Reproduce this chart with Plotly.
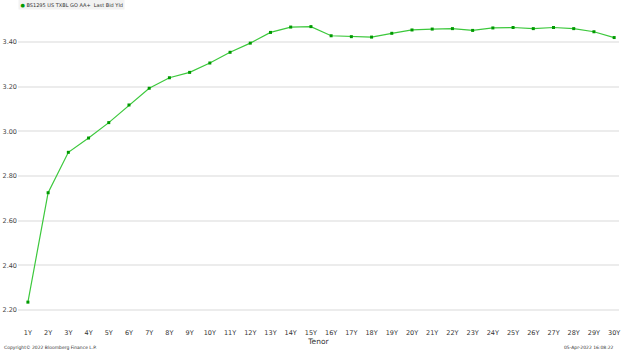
import plotly.graph_objects as go

tenors = [f"{i}Y" for i in range(1, 31)]
yields = [2.235, 2.725, 2.906, 2.970, 3.039, 3.118, 3.193, 3.240, 3.264, 3.306,
          3.354, 3.395, 3.443, 3.467, 3.469, 3.428, 3.424, 3.422, 3.439, 3.454,
          3.458, 3.460, 3.452, 3.463, 3.465, 3.460, 3.465, 3.460, 3.446, 3.420]
y_ticks = [2.20, 2.40, 2.60, 2.80, 3.00, 3.20, 3.40]
series_name = "BS1295 US TXBL GO AA+  Last Bid Yld"

FONT = "DejaVu Sans"
PH = 305.0  # plot height in px

fig = go.Figure()
fig.add_trace(go.Scatter(
    x=list(range(len(tenors))), y=yields, mode="lines+markers", name=series_name,
    line=dict(color="#3cc83c", width=1.2),
    marker=dict(color="#009a00", size=3, symbol="square"),
    showlegend=False,
))

fig.update_layout(
    width=623, height=351,
    margin=dict(l=17, r=3, t=15, b=31),
    plot_bgcolor="white", paper_bgcolor="white",
    showlegend=False,
    xaxis=dict(
        range=[-0.49, 29.24],
        tickmode="array", tickvals=list(range(len(tenors))), ticktext=tenors,
        showgrid=False, zeroline=False, showline=False,
        ticks="outside", ticklen=6, tickcolor="rgba(0,0,0,0)",
        tickfont=dict(family=FONT, size=6.5, color="#333"),
        title=dict(text="Tenor", font=dict(family=FONT, size=7.5, color="#333"), standoff=0),
    ),
    yaxis=dict(
        range=[2.155, 3.521],
        tickmode="array", tickvals=y_ticks, ticktext=[f"{v:.2f}" for v in y_ticks],
        showgrid=True, gridcolor="#ececec", gridwidth=1.5, zeroline=False, showline=False,
        ticks="", tickfont=dict(family=FONT, size=6.5, color="#444"),
    ),
    annotations=[
        dict(text="<span style='color:#009a00'>\u25cf</span> " + series_name,
             xref="paper", yref="paper",
             x=0.0, y=1 + 10 / PH, xanchor="left", yanchor="middle", showarrow=False,
             bgcolor="#f2f2f2", borderpad=1.5,
             font=dict(family=FONT, size=5, color="#333")),
        dict(text="Copyright\u00a9 2022 Bloomberg Finance L.P.", xref="paper", yref="paper",
             x=-0.026, y=-27 / PH, xanchor="left", yanchor="middle", showarrow=False,
             font=dict(family=FONT, size=4.5, color="#333")),
        dict(text="05-Apr-2022 16:08:22", xref="paper", yref="paper",
             x=0.995, y=-27 / PH, xanchor="right", yanchor="middle", showarrow=False,
             font=dict(family=FONT, size=4.5, color="#333")),
    ],
)

fig.write_html("out.html")
